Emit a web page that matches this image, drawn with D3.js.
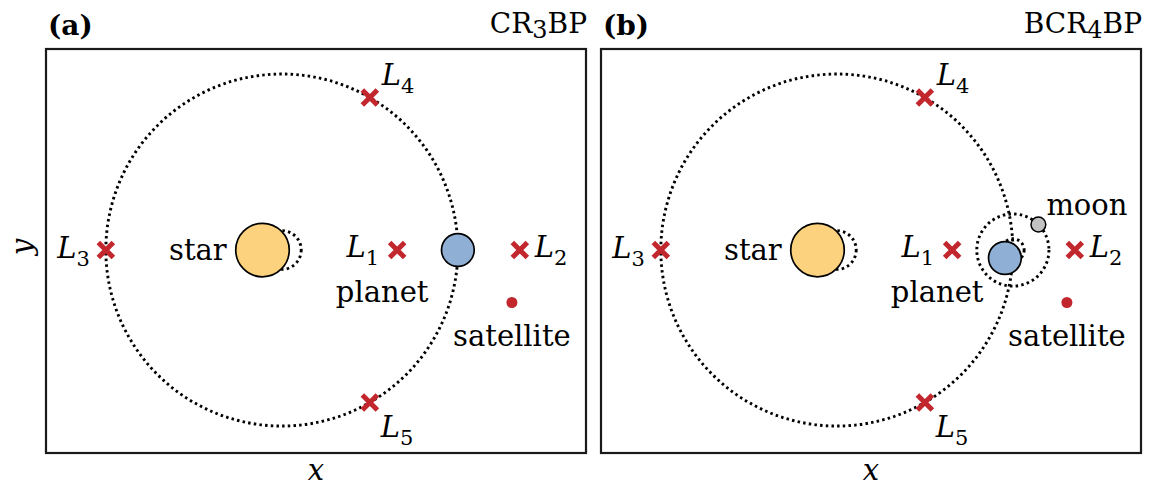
<!DOCTYPE html>
<html>
<head>
<meta charset="utf-8">
<script src="https://cdn.jsdelivr.net/npm/d3@7"></script>
<style>
body { margin: 0; background: #fff; }
text { font-family: "DejaVu Serif", serif; fill: #000; }
</style>
</head>
<body>
<div id="container"></div>
<script>

// set variables for further use
var canvasX = 1157;
var canvasY = 486;
var frameW = 540;
var frameH = 404;
var frameTop = 49;
var panelLeft = [46, 601];
var fontSize = 29;

// panel data (units: star-planet distance = 1, origin at barycentre)
var panelTags = ["(a)", "(b)"];
var modelPre = ["CR", "BCR"];
var modelNum = ["3", "4"];
var hasMoon = [false, true];

var lagrangeNum = ["1", "2", "3", "4", "5"];
var lagrangeX = [0.655, 1.352, -1.0, 0.5, 0.5];
var lagrangeY = [0, 0, 0, 0.866, -0.866];

var starX = -0.11;
var starR = 0.152;
var planetX = 1.0;
var planetR = 0.093;
var orbitR = 1.0;

var moonDist = 0.205;
var moonAngle = 45;
var moonR = 0.042;
var planetWobble = 0.064;

var satX = 1.307;
var satY = -0.298;

var red = "#c1272d";

// make svg
var svg = d3.select("#container")
            .append("svg")
            .attr("width", canvasX)
            .attr("height", canvasY);

// scales shared by both panels
var x = d3.scaleLinear().domain([-1.34, 1.728]).range([0, frameW]);
var y = d3.scaleLinear().domain([-1.153, 1.142]).range([frameH, 0]);
function len(v) { return x(v) - x(0); }

panelTags.forEach(function(tag, i) { drawPanel(i); });

// draw one panel
function drawPanel(i) {
    var g = svg.append("g")
               .attr("transform", "translate(" + panelLeft[i] + "," + frameTop + ")");

    // frame
    g.append("rect")
     .attr("width", frameW)
     .attr("height", frameH)
     .attr("fill", "none")
     .attr("stroke", "#1a1a1a")
     .attr("stroke-width", 2.2);

    // panel tag and model name
    g.append("text")
     .attr("x", 2)
     .attr("y", -14)
     .attr("font-weight", "bold")
     .attr("font-size", 28)
     .text(panelTags[i]);

    var model = g.append("text")
                 .attr("x", frameW + 1)
                 .attr("y", -16)
                 .attr("text-anchor", "end")
                 .attr("font-size", 28);
    model.append("tspan").text(modelPre[i]);
    model.append("tspan").attr("font-size", 24).attr("dy", 5).text(modelNum[i]);
    model.append("tspan").attr("dy", -5).text("BP");

    // axis labels
    g.append("text")
     .attr("x", frameW / 2)
     .attr("y", frameH + 27)
     .attr("text-anchor", "middle")
     .attr("font-style", "italic")
     .attr("font-size", fontSize)
     .text("x");

    if (i == 0) {
        g.append("text")
         .attr("transform", "translate(-14," + (frameH / 2 - 4) + ") rotate(-90)")
         .attr("text-anchor", "middle")
         .attr("font-style", "italic")
         .attr("font-size", fontSize)
         .text("y");
    }

    // dotted orbits
    var dots = function(sel) {
        sel.attr("fill", "none")
           .attr("stroke", "#000")
           .attr("stroke-width", 2.9)
           .attr("stroke-dasharray", "2.5 3.2");
    };

    g.append("circle")
     .attr("cx", x(0)).attr("cy", y(0))
     .attr("r", len(orbitR))
     .call(dots);

    g.append("circle")
     .attr("cx", x(0)).attr("cy", y(0))
     .attr("r", len(-starX))
     .call(dots);

    // planet (and moon) positions
    var px = planetX, py = 0;
    var a = moonAngle * Math.PI / 180;
    if (hasMoon[i]) {
        px = planetX - planetWobble * Math.cos(a);
        py = -planetWobble * Math.sin(a);

        g.append("circle")
         .attr("cx", x(planetX)).attr("cy", y(0))
         .attr("r", len(moonDist))
         .call(dots);

        g.append("circle")
         .attr("cx", x(planetX)).attr("cy", y(0))
         .attr("r", len(planetWobble))
         .call(dots);
    }

    // star
    g.append("circle")
     .attr("cx", x(starX)).attr("cy", y(0))
     .attr("r", len(starR))
     .attr("fill", "#fcd27e")
     .attr("stroke", "#000")
     .attr("stroke-width", 1.7);

    g.append("text")
     .attr("x", x(starX) - len(starR) - 9)
     .attr("y", y(0) + 10)
     .attr("text-anchor", "end")
     .attr("font-size", fontSize)
     .text("star");

    // planet
    g.append("circle")
     .attr("cx", x(px)).attr("cy", y(py))
     .attr("r", len(planetR))
     .attr("fill", "#8fb0d4")
     .attr("stroke", "#000")
     .attr("stroke-width", 1.7);

    g.append("text")
     .attr("x", x(lagrangeX[0]) - 15)
     .attr("y", y(0) + 52)
     .attr("text-anchor", "middle")
     .attr("font-size", fontSize)
     .text("planet");

    // moon
    if (hasMoon[i]) {
        var mx = planetX + moonDist * Math.cos(a);
        var my = moonDist * Math.sin(a);
        g.append("circle")
         .attr("cx", x(mx)).attr("cy", y(my))
         .attr("r", len(moonR))
         .attr("fill", "#c2c2c2")
         .attr("stroke", "#000")
         .attr("stroke-width", 1.5);

        g.append("text")
         .attr("x", x(mx) + 8)
         .attr("y", y(my) - 10)
         .attr("font-size", fontSize)
         .text("moon");
    }

    // satellite
    g.append("circle")
     .attr("cx", x(satX)).attr("cy", y(satY))
     .attr("r", 5.5)
     .attr("fill", red);

    g.append("text")
     .attr("x", x(satX))
     .attr("y", y(satY) + 44)
     .attr("text-anchor", "middle")
     .attr("font-size", fontSize)
     .text("satellite");

    // lagrange points
    var labelDx = [-18, 15, -16, 12, 11];
    var labelDy = [7, 7, 8, -13, 35];
    var anchors = ["end", "start", "end", "start", "start"];

    lagrangeNum.forEach(function(n, k) {
        var cx = x(lagrangeX[k]);
        var cy = y(lagrangeY[k]);

        g.append("path")
         .attr("d", "M" + (cx - 7.5) + "," + (cy - 7.5) + "L" + (cx + 7.5) + "," + (cy + 7.5) +
                    "M" + (cx - 7.5) + "," + (cy + 7.5) + "L" + (cx + 7.5) + "," + (cy - 7.5))
         .attr("stroke", red)
         .attr("stroke-width", 5);

        var lab = g.append("text")
                   .attr("x", cx + labelDx[k])
                   .attr("y", cy + labelDy[k])
                   .attr("text-anchor", anchors[k])
                   .attr("font-size", fontSize);
        lab.append("tspan").attr("font-style", "italic").text("L");
        lab.append("tspan").attr("font-size", 21).attr("dy", 8).text(n);
    });
}
</script>
</body>
</html>
